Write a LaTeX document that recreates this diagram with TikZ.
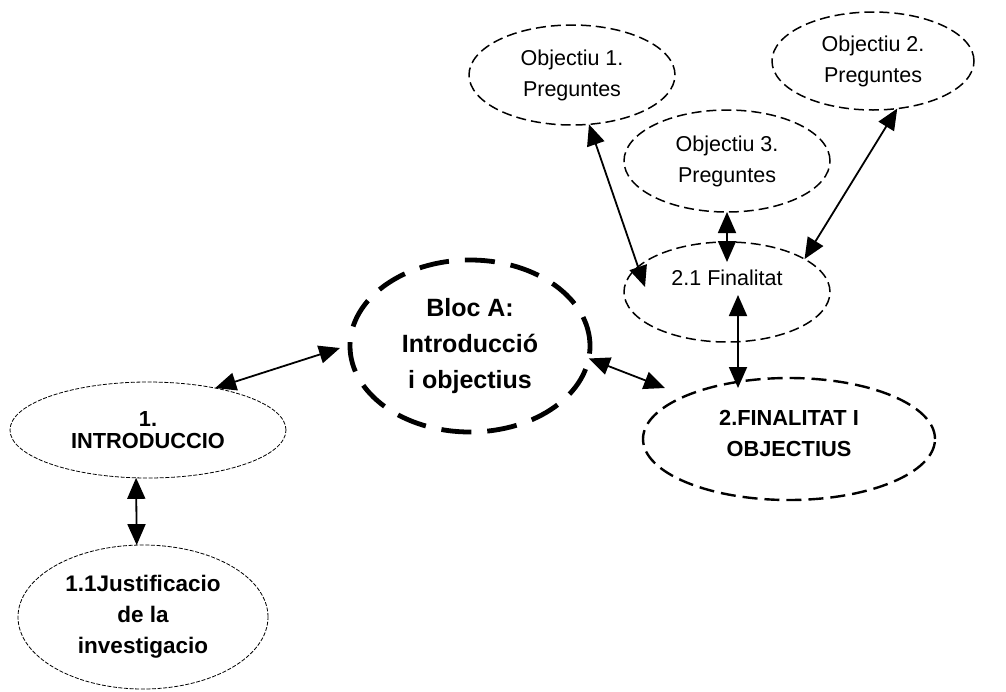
\documentclass[tikz,border=0pt]{standalone}
\usepackage{fontspec}
\setmainfont{Liberation Sans}
\usetikzlibrary{shapes.geometric,arrows.meta,calc}

\begin{document}
\begin{tikzpicture}[x=1pt,y=-1pt,
  oval/.style={ellipse, draw=black, inner sep=0pt, outer sep=0pt, align=center, text=black},
  fineoval/.style={oval, line width=0.8pt, dash pattern=on 4pt off 1.6pt},
  midoval/.style={oval, line width=1.5pt, dash pattern=on 10pt off 5pt},
  thickoval/.style={oval, line width=2.4pt, dash pattern=on 15pt off 7pt},
  heavyoval/.style={oval, line width=4.8pt, dash pattern=on 30pt off 16pt},
  plaintxt/.style={font=\fontsize{21.5}{31}\selectfont},
  boldtxt/.style={font=\bfseries\fontsize{21.8}{31}\selectfont},
  link/.style={line width=1.8pt, {Triangle[length=21pt,width=18pt]}-{Triangle[length=21pt,width=18pt]}}
]
\useasboundingbox (0,0) rectangle (1006,691);

% left branch
\node[fineoval, minimum width=276, minimum height=96,
      font=\bfseries\fontsize{21.8}{22}\selectfont] (intro) at (148,430) {1.\\INTRODUCCIO};
\node[fineoval, minimum width=250, minimum height=144,
      font=\bfseries\fontsize{22.5}{31}\selectfont] (just) at (143,617) {1.1Justificacio\\de la\\investigacio};

% central block
\node[heavyoval, minimum width=240, minimum height=172,
      font=\bfseries\fontsize{25}{36}\selectfont] (blocA) at (470,346) {Bloc A:\\Introducció\\i objectius};

% right branch
\node[thickoval, minimum width=292, minimum height=122,
      label={[boldtxt, align=center, yshift=6pt]center:2.FINALITAT I\\OBJECTIUS}] (fin2) at (789,439) {};
\node[midoval, minimum width=206, minimum height=100,
      label={[plaintxt, yshift=14pt]center:2.1 Finalitat}] (fin21) at (727,292) {};
\node[midoval, plaintxt, minimum width=206, minimum height=100] (obj1) at (572,75) {Objectiu 1.\\Preguntes};
\node[midoval, plaintxt, minimum width=206, minimum height=102] (obj3) at (727,161) {Objectiu 3.\\Preguntes};
\node[midoval, plaintxt, minimum width=202, minimum height=98] (obj2) at (873,61) {Objectiu 2.\\Preguntes};

% connectors
\draw[link] (intro.32) -- ($(blocA.center)+(-130,2)$);
\draw[link] (intro.-104) -- (just.95);
\draw[link] (blocA.-6) -- ($(fin2.center)+(-124,-51)$);
\draw[link] ($(fin21.center)+(11,3)$) -- ($(fin2.center)+(-51,-51)$);
\draw[link] (obj3.south) -- ($(fin21.center)+(0,-30)$);
\draw[link] (obj1.-71) -- ($(fin21.center)+(-82,-5)$);
\draw[link] (obj2.-63) -- (fin21.23);
\end{tikzpicture}
\end{document}
